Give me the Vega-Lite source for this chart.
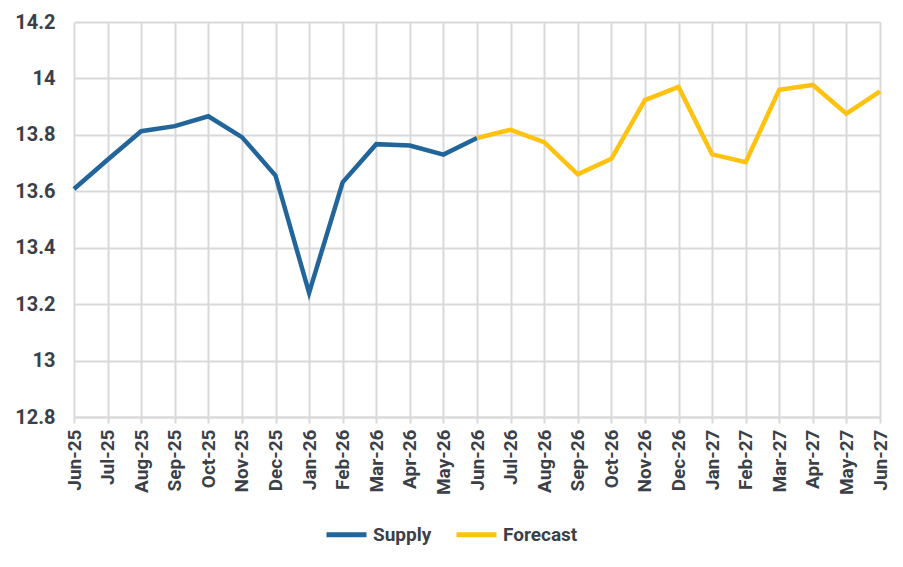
{
  "$schema": "https://vega.github.io/schema/vega-lite/v6.json",
  "width": 806,
  "height": 395,
  "autosize": {"type": "none"},
  "padding": {"left": 74, "top": 22, "right": 23, "bottom": 150},
  "background": "white",
  "config": {
    "view": {"stroke": null},
    "font": "Roboto"
  },
  "data": {
    "values": [
      {"month": "Jun-25", "series": "Supply", "value": 13.608},
      {"month": "Jul-25", "series": "Supply", "value": 13.712},
      {"month": "Aug-25", "series": "Supply", "value": 13.813},
      {"month": "Sep-25", "series": "Supply", "value": 13.831},
      {"month": "Oct-25", "series": "Supply", "value": 13.866},
      {"month": "Nov-25", "series": "Supply", "value": 13.792},
      {"month": "Dec-25", "series": "Supply", "value": 13.656},
      {"month": "Jan-26", "series": "Supply", "value": 13.24},
      {"month": "Feb-26", "series": "Supply", "value": 13.632},
      {"month": "Mar-26", "series": "Supply", "value": 13.767},
      {"month": "Apr-26", "series": "Supply", "value": 13.762},
      {"month": "May-26", "series": "Supply", "value": 13.73},
      {"month": "Jun-26", "series": "Supply", "value": 13.789},
      {"month": "Jun-26", "series": "Forecast", "value": 13.789},
      {"month": "Jul-26", "series": "Forecast", "value": 13.818},
      {"month": "Aug-26", "series": "Forecast", "value": 13.774},
      {"month": "Sep-26", "series": "Forecast", "value": 13.66},
      {"month": "Oct-26", "series": "Forecast", "value": 13.715},
      {"month": "Nov-26", "series": "Forecast", "value": 13.923},
      {"month": "Dec-26", "series": "Forecast", "value": 13.97},
      {"month": "Jan-27", "series": "Forecast", "value": 13.731},
      {"month": "Feb-27", "series": "Forecast", "value": 13.703},
      {"month": "Mar-27", "series": "Forecast", "value": 13.96},
      {"month": "Apr-27", "series": "Forecast", "value": 13.977},
      {"month": "May-27", "series": "Forecast", "value": 13.875},
      {"month": "Jun-27", "series": "Forecast", "value": 13.954}
    ]
  },
  "mark": {"type": "line", "strokeWidth": 4.5, "strokeCap": "butt", "strokeJoin": "miter"},
  "encoding": {
    "x": {
      "field": "month",
      "type": "ordinal",
      "sort": null,
      "scale": {"type": "point", "padding": 0},
      "axis": {
        "title": null,
        "labelAngle": -90,
        "labelFont": "Roboto",
        "labelFontWeight": "bold",
        "labelFontSize": 19,
        "labelColor": "#3b3f48",
        "labelPadding": 6,
        "grid": true,
        "gridColor": "#d9d9d9",
        "gridWidth": 2,
        "domain": true,
        "domainColor": "#d9d9d9",
        "domainWidth": 2,
        "ticks": true,
        "tickColor": "#d9d9d9",
        "tickWidth": 2,
        "tickSize": 6
      }
    },
    "y": {
      "field": "value",
      "type": "quantitative",
      "scale": {"domain": [12.8, 14.2], "nice": false, "zero": false},
      "axis": {
        "title": null,
        "values": [12.8, 13, 13.2, 13.4, 13.6, 13.8, 14, 14.2],
        "format": ".1~f",
        "labelFont": "Roboto",
        "labelFontWeight": "bold",
        "labelFontSize": 20,
        "labelColor": "#3b3f48",
        "labelPadding": 19,
        "grid": true,
        "gridColor": "#d9d9d9",
        "gridWidth": 2,
        "domain": false,
        "ticks": false
      }
    },
    "color": {
      "field": "series",
      "type": "nominal",
      "scale": {"domain": ["Supply", "Forecast"], "range": ["#22659a", "#ffc20e"]},
      "legend": {
        "title": null,
        "orient": "none",
        "direction": "horizontal",
        "legendX": 250,
        "legendY": 490,
        "symbolType": "stroke",
        "symbolSize": 1600,
        "symbolStrokeWidth": 5,
        "labelFont": "Roboto",
        "labelFontWeight": "bold",
        "labelFontSize": 19,
        "labelColor": "#3b3f48",
        "labelOffset": 4,
        "columnPadding": 14
      }
    }
  }
}
